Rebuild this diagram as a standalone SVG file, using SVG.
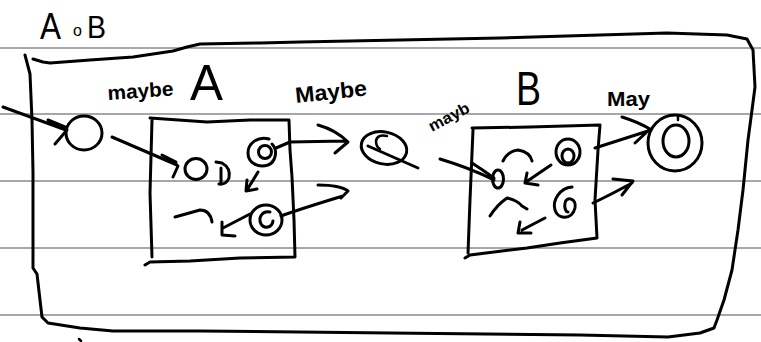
<svg xmlns="http://www.w3.org/2000/svg" width="761" height="342" viewBox="0 0 761 342">
<style>
.rule{stroke:#8a8a8a;stroke-width:1.5;fill:none}
.ink{stroke:#000;stroke-width:3;fill:none;stroke-linecap:round;stroke-linejoin:round}
.thin{stroke:#000;stroke-width:2.5;fill:none;stroke-linecap:round;stroke-linejoin:round}
.lbl{font-family:"Liberation Sans",Arial,sans-serif;fill:#000}
.hw{font-weight:bold}
</style>
<rect width="761" height="342" fill="#fff"/>
<g id="paper">
<line class="rule" x1="0" y1="48" x2="761" y2="48"/>
<line class="rule" x1="0" y1="114" x2="761" y2="114"/>
<line class="rule" x1="0" y1="181" x2="761" y2="181"/>
<line class="rule" x1="0" y1="248" x2="761" y2="248"/>
<line class="rule" x1="0" y1="315" x2="761" y2="315"/>
</g>
<g id="AoB">
<text class="lbl" x="40" y="39" font-size="36" textLength="21" lengthAdjust="spacingAndGlyphs">A</text>
<text class="lbl" x="73" y="36" font-size="16">o</text>
<text class="lbl" x="87" y="38" font-size="32" textLength="19" lengthAdjust="spacingAndGlyphs">B</text>
<path class="ink" d="M25,55 L30,74 L32,120 L33,173 L33,268 L37,274 L40,300 L42,317 L48,323 L80,328 L113,331 L200,331 L390,333 L580,335 L668,337 L700,333 L714,328 L717,320 L724,300 L732,270 L738,230 L743,190 L748,140 L752,110 L755,87 L753,50 L747,39 L727,35 L667,33 L600,35 L500,38 L400,40 L300,42 L260,43 L200,44 L187,47 L173,51 L133,57 L90,60 L50,63 L43,62 L33,59"/>
<path class="thin" d="M79,339 L81,341"/>
</g>
<g id="A">
<path class="ink" d="M150,118 L207,122 L250,120 L289,120 L290,150 L292,177 L294,220 L295,257 L240,258 L190,261 L150,262 L145,265 M152,120 L150,193 L152,257"/>
<text class="lbl" x="190" y="100" font-size="50" textLength="33" lengthAdjust="spacingAndGlyphs">A</text>
</g>
<g id="B">
<path class="ink" d="M472,128 L530,127 L600,125 L598,150 L595,200 L597,238 L560,243 L527,248 L470,255 L465,258 M473,130 L470,200 L468,253"/>
<text class="lbl" x="516" y="105" font-size="48" textLength="25" lengthAdjust="spacingAndGlyphs">B</text>
</g>
<g id="s0"><ellipse class="ink" cx="84" cy="133" rx="18" ry="17"/></g>
<g id="a0"><ellipse class="ink" cx="196" cy="169" rx="11" ry="10.5"/></g>
<g id="a1">
<path class="ink" d="M269,139 C258,136 248,143 248,153 C248,163 258,168 268,165 C276,162 278,150 272,144"/>
<circle class="ink" cx="265" cy="152" r="6.5"/>
</g>
<g id="a2">
<ellipse class="ink" cx="266" cy="220" rx="16" ry="15"/>
<path class="ink" d="M270,212 C262,210 258,218 261,224 C264,229 272,228 273,221"/>
</g>
<g id="m">
<ellipse class="ink" cx="384" cy="148" rx="23" ry="16" transform="rotate(12 384 148)"/>
<path class="thin" d="M387,136 Q377,134 376,141 Q376,147 380,149"/>
</g>
<g id="b0"><ellipse class="ink" cx="498" cy="179" rx="5.5" ry="9"/></g>
<g id="b1">
<ellipse class="ink" cx="568" cy="152" rx="12" ry="13"/>
<ellipse class="ink" cx="568" cy="156" rx="6" ry="7"/>
</g>
<g id="b2">
<path class="ink" d="M572,187 C560,188 552,200 555,210 C558,220 572,220 575,208 C577,198 566,196 565,203 C564,208 566,212 568,212"/>
</g>
<g id="f">
<ellipse class="ink" cx="675" cy="143" rx="27" ry="28"/>
<ellipse class="ink" cx="676" cy="141" rx="13" ry="16"/>
<path class="thin" d="M678,116 L678,120"/>
</g>
<g id="labels">
<text class="lbl hw" x="108" y="100" font-size="20" textLength="66" lengthAdjust="spacingAndGlyphs" transform="rotate(-4 108 100)">maybe</text>
<text class="lbl hw" x="296" y="103" font-size="22" textLength="72" lengthAdjust="spacingAndGlyphs" transform="rotate(-6 296 103)">Maybe</text>
<text class="lbl hw" x="432" y="132" font-size="16" textLength="44" lengthAdjust="spacingAndGlyphs" transform="rotate(-28 432 132)">mayb</text>
<text class="lbl hw" x="607" y="106" font-size="20" textLength="43" lengthAdjust="spacingAndGlyphs">May</text>
</g>
<g id="connectors">
<path class="ink" d="M3,107 L66,130 M48,120 L65,127 M55,144 L67,130"/>
<path class="ink" d="M112,137 L177,165 M162,155 L176,162 M173,177 L178,166"/>
<path class="ink" d="M216,162 L222,163 Q231,168 229,178 Q226,185 219,184 M221,168 L221,183"/>
<path class="ink" d="M258,172 L247,190 M247,180 L246,191 L257,189"/>
<path class="ink" d="M175,217 L200,210 Q210,210 212,222"/>
<path class="ink" d="M250,214 L223,228 M222,222 L222,235 L235,236"/>
<path class="ink" d="M276,148 L290,142 L345,141 M318,125 Q336,130 348,142 L335,153"/>
<path class="ink" d="M281,216 Q300,209 343,196 M318,185 Q340,185 348,191 L341,198"/>
<path class="ink" d="M368,146 L418,168"/>
<path class="ink" d="M440,159 Q470,168 494,180 M472,163 Q483,170 494,178"/>
<path class="ink" d="M503,161 Q508,151 518,150 Q530,152 532,161"/>
<path class="ink" d="M551,165 L526,182 M527,173 L525,183 L538,185"/>
<path class="ink" d="M490,216 Q497,205 507,198 Q517,200 522,206 L527,209"/>
<path class="ink" d="M545,218 L522,230 M520,222 L518,233 L531,233"/>
<path class="ink" d="M595,148 L648,131 M622,117 Q638,122 650,129 L635,143"/>
<path class="ink" d="M593,203 Q610,195 632,183 M613,179 L633,181 L622,195"/>
</g>
</svg>
